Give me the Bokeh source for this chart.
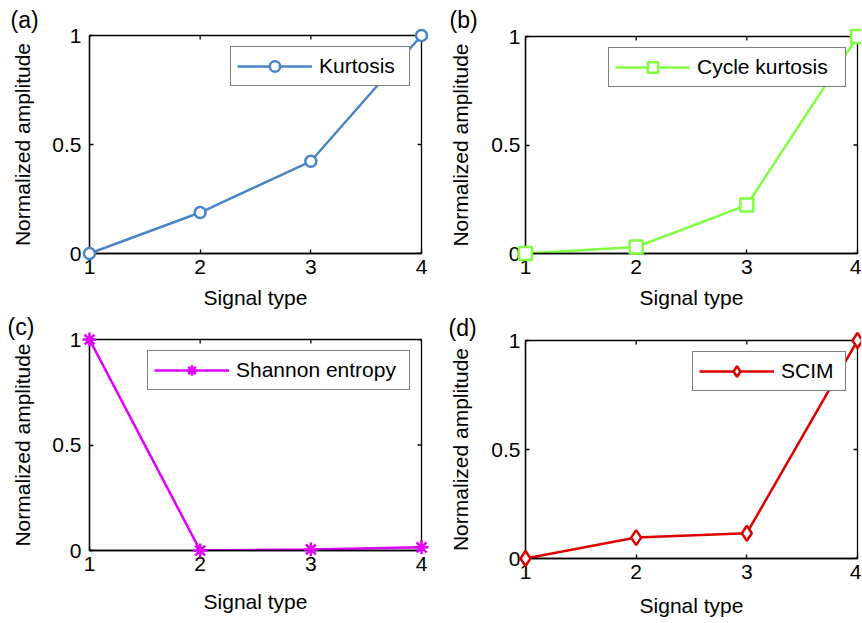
from math import pi
from bokeh.plotting import figure
from bokeh.models import Range1d, FixedTicker, Legend, LegendItem, Title
from bokeh.layouts import row, column
from bokeh.embed import file_html
from bokeh.resources import INLINE

# ---- data ----
signal_type = [1, 2, 3, 4]
kurtosis = [0.0, 0.188, 0.423, 1.0]
cycle_kurtosis = [0.0, 0.03, 0.223, 1.0]
shannon_entropy = [1.0, 0.0, 0.005, 0.015]
scim = [0.0, 0.096, 0.116, 1.0]
x_ticks = [1, 2, 3, 4]
y_ticks = [0, 0.5, 1]
y_tick_labels = {0: "0", 0.5: "0.5", 1: "1"}

FONT = "Liberation Sans"
FS = "21px"


def style_axis(ax, standoff):
    ax.major_label_text_font = FONT
    ax.major_label_text_font_size = FS
    ax.major_label_text_color = "black"
    ax.axis_label_text_font = FONT
    ax.axis_label_text_font_size = FS
    ax.axis_label_text_font_style = "normal"
    ax.axis_label_text_color = "black"
    ax.axis_line_color = "black"
    ax.axis_line_width = 1.3
    ax.major_tick_line_color = "black"
    ax.major_tick_line_width = 1.3
    ax.major_tick_in = 4
    ax.major_tick_out = 0
    ax.minor_tick_line_color = None
    ax.major_label_standoff = standoff


def make_panel(ys, color, marker, msize, name, tag, width, height,
               bl, br, bt, bb, ytick_so, ylab_so, xtick_so, xlab_so,
               tag_x, tag_so, label_width):
    p = figure(width=width, height=height, x_range=Range1d(1, 4), y_range=Range1d(0, 1),
               output_backend="svg", toolbar_location=None,
               min_border_left=bl, min_border_right=br,
               min_border_top=bt, min_border_bottom=bb,
               x_axis_label="Signal type", y_axis_label="Normalized amplitude")
    p.xgrid.visible = False
    p.ygrid.visible = False
    p.outline_line_color = "black"
    p.outline_line_width = 1.3
    p.background_fill_color = "white"
    p.border_fill_color = "white"

    p.xaxis.ticker = FixedTicker(ticks=x_ticks)
    p.yaxis.ticker = FixedTicker(ticks=y_ticks)
    p.yaxis.major_label_overrides = y_tick_labels
    style_axis(p.xaxis[0], xtick_so)
    style_axis(p.yaxis[0], ytick_so)
    p.xaxis.axis_label_standoff = xlab_so
    p.yaxis.axis_label_standoff = ylab_so

    # inward ticks on the top and right edges of the box (half of each dash is clipped)
    p.scatter(x=x_ticks, y=[y_ticks[-1]] * len(x_ticks), marker="dash", angle=pi / 2,
              size=8, line_color="black", line_width=1.3)
    p.scatter(x=[x_ticks[-1]] * len(y_ticks), y=y_ticks, marker="dash",
              size=8, line_color="black", line_width=1.3)

    lr = p.line(signal_type, ys, line_color=color, line_width=2.5)
    sr = p.scatter(signal_type, ys, marker=marker, size=msize,
                   line_color=color, line_width=2.5, fill_color="white",
                   level="overlay")

    leg = Legend(items=[LegendItem(label=name, renderers=[lr, sr])],
                 location="top_right", margin=11, padding=6,
                 glyph_width=75, glyph_height=26, label_standoff=7,
                 label_width=label_width,
                 label_text_font=FONT, label_text_font_size=FS,
                 label_text_color="black",
                 border_line_color="black", border_line_width=1.2,
                 background_fill_color="white", background_fill_alpha=1.0)
    p.add_layout(leg)

    p.add_layout(Title(text=tag, align="left", offset=tag_x, standoff=tag_so,
                       vertical_align="bottom",
                       text_font=FONT, text_font_size="23px",
                       text_font_style="normal", text_color="black"), "above")
    return p


pa = make_panel(kurtosis, "#4a84c6", "circle", 11, "Kurtosis", "(a)",
                431, 311, 89, 10, 35, 58, 8, 15, 6, 9, -79, 6, 84)
pb = make_panel(cycle_kurtosis, "#80ff40", "square", 13, "Cycle kurtosis", "(b)",
                430, 311, 94, 4, 35, 58, 5, 16, 6, 9, -76, 8, 142)
pc = make_panel(shannon_entropy, "#e100ff", "asterisk", 14, "Shannon entropy", "(c)",
                431, 311, 89, 10, 28, 72, 8, 15, 6, 16, -82, 0, 167)
pd = make_panel(scim, "#dd0000", "diamond", 15, "SCIM", "(d)",
                430, 311, 94, 4, 29, 64, 5, 16, 6, 12, -77, 0, 58)

layout = row(column(pa, pc), column(pb, pd))

open("out.html", "w").write(file_html(layout, INLINE))
